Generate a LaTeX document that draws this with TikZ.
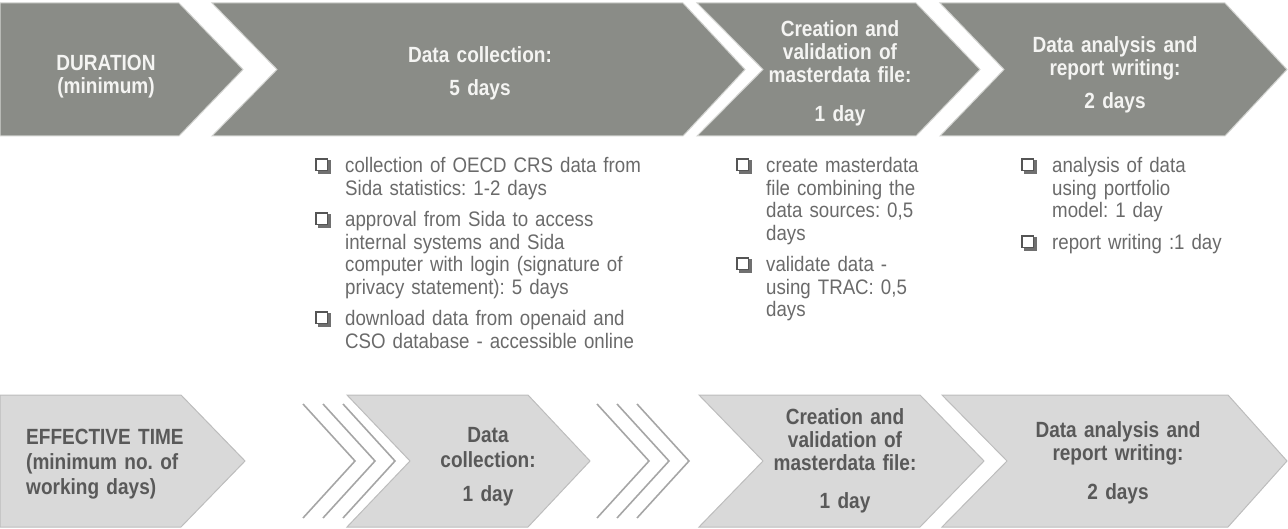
\documentclass[tikz,border=0pt]{standalone}
\usepackage{fontspec}
\setmainfont{Liberation Sans}
\newfontfamily\hdfont[FakeStretch=0.865]{Liberation Sans}
\newfontfamily\blfont[FakeStretch=0.89]{Liberation Sans}
\frenchspacing
\definecolor{darkfill}{HTML}{8A8C87}
\definecolor{darkedge}{HTML}{D2D3D0}
\definecolor{lightfill}{HTML}{D9D9D9}
\definecolor{lightedge}{HTML}{BDBDBD}
\definecolor{toptxt}{HTML}{F4F4F2}
\definecolor{bottxt}{HTML}{595959}
\definecolor{bultxt}{HTML}{6A6A6A}
\definecolor{chkcol}{HTML}{555555}
\definecolor{chkshade}{HTML}{707070}
\definecolor{chevgray}{HTML}{A6A6A6}
\tikzset{
  topshape/.style={fill=darkfill, draw=darkedge, line width=1pt, line join=miter},
  botshape/.style={fill=lightfill, draw=lightedge, line width=1pt, line join=miter},
  hdtext/.style={font=\hdfont\bfseries\fontsize{22}{23}\selectfont\frenchspacing, text width=220pt, align=center, anchor=base, inner sep=0pt},
  toptext/.style={hdtext, text=toptxt},
  bottext/.style={hdtext, text=bottxt},
  bultext/.style={text=bultxt, font=\blfont\fontsize{21}{22.5}\selectfont\frenchspacing, text width=330pt, align=left, anchor=base west, inner sep=0pt},
  chevline/.style={draw=chevgray, line width=1.6pt, line join=miter},
  chk/.pic={
    \draw[chkcol, line width=1.2pt] (0,-14) rectangle (11.5,-2.5);
    \draw[chkshade, line width=2.6pt] (13.3,-12.5) -- (13.3,-0.7) -- (1.5,-0.7);
  }
}
\begin{document}
\begin{tikzpicture}[x=1pt,y=-1pt]
\useasboundingbox (0,0) rectangle (1288,529);

% duration row
\path[topshape] (0,3) -- (179,3) -- (243,69.5) -- (179,136) -- (0,136) -- cycle;
\path[topshape] (212,3) -- (683,3) -- (745,69.5) -- (683,136) -- (212,136) -- (277,69.5) -- cycle;
\path[topshape] (697,3) -- (916,3) -- (980,69.5) -- (916,136) -- (697,136) -- (763,69.5) -- cycle;
\path[topshape] (940,3) -- (1225,3) -- (1287,69.5) -- (1225,136) -- (940,136) -- (1004,69.5) -- cycle;

\node[toptext] (dur) at (106,71) {DURATION\\(minimum)};
\node[toptext] (dcol) at (480,63) {Data collection:\\[10pt]5 days};
\node[toptext] (dmas) at (840,37) {Creation and\\validation of\\masterdata file:\\[16pt]1 day};
\node[toptext] (dana) at (1115,53) {Data analysis and\\report writing:\\[10pt]2 days};

% task lists
\pic at (316,173) {chk};
\node[bultext] (t1a) at (345,173) {collection of OECD CRS data from\\Sida statistics: 1-2 days};
\pic at (316,227) {chk};
\node[bultext] (t1b) at (345,227) {approval from Sida to access\\internal systems and Sida\\computer with login (signature of\\privacy statement): 5 days};
\pic at (316,326) {chk};
\node[bultext] (t1c) at (345,326) {download data from openaid and\\CSO database - accessible online};

\pic at (737,173) {chk};
\node[bultext] (t2a) at (766,173) {create masterdata\\file combining the\\data sources: 0,5\\days};
\pic at (737,272) {chk};
\node[bultext] (t2b) at (766,272) {validate data -\\using TRAC: 0,5\\days};

\pic at (1022,173) {chk};
\node[bultext] (t3a) at (1052,173) {analysis of data\\using portfolio\\model: 1 day};
\pic at (1022,250) {chk};
\node[bultext] (t3b) at (1052,250) {report writing :1 day};

% effective time row
\path[botshape] (0,395) -- (181,395) -- (245,461) -- (181,527) -- (0,527) -- cycle;
\path[botshape] (347,395) -- (528,395) -- (590,461) -- (528,527) -- (347,527) -- (410,461) -- cycle;
\path[botshape] (699,395) -- (920,395) -- (984,461) -- (920,527) -- (699,527) -- (763,461) -- cycle;
\path[botshape] (942,395) -- (1228,395) -- (1287,461) -- (1228,527) -- (942,527) -- (1007,461) -- cycle;

\foreach \s in {303,323,343,597,617,637}
  \draw[chevline] (\s,404) -- (\s+52,461) -- (\s,518);

\node[bottext, align=left, anchor=base west] (eff) at (26,444) {EFFECTIVE TIME\\[2pt](minimum no. of\\[2pt]working days)};
\node[bottext] (ecol) at (488,442) {Data\\[2pt]collection:\\[11pt]1 day};
\node[bottext] (emas) at (845,424) {Creation and\\validation of\\masterdata file:\\[16pt]1 day};
\node[bottext] (eana) at (1118,437) {Data analysis and\\report writing:\\[16pt]2 days};
\end{tikzpicture}
\end{document}
